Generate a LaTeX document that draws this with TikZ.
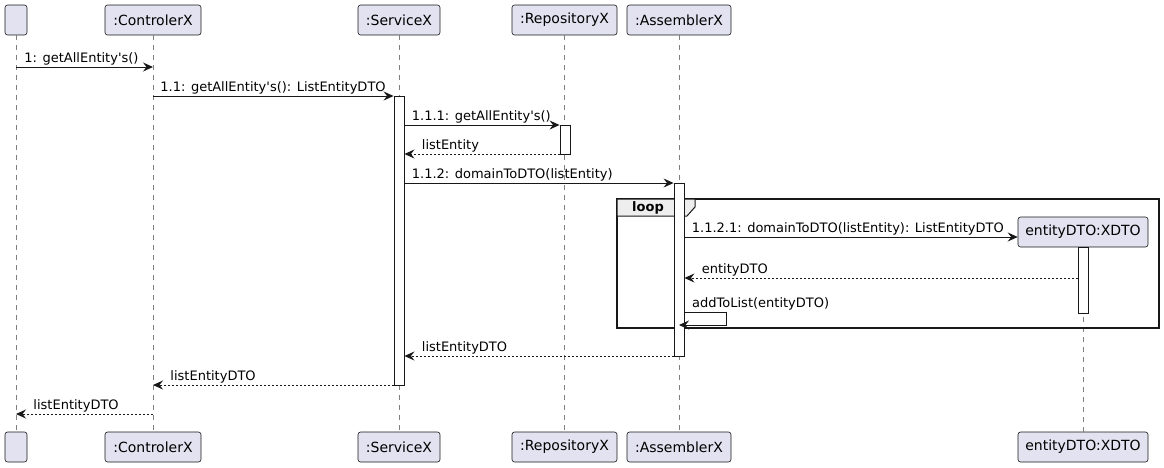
\documentclass[tikz,border=0pt]{standalone}
\usepackage{fontspec}
\setmainfont{DejaVu Sans}
\usetikzlibrary{arrows.meta}

\definecolor{partfill}{RGB}{226,226,240}
\definecolor{lineclr}{RGB}{24,24,24}
\definecolor{loopfill}{RGB}{238,238,238}

\begin{document}
\begin{tikzpicture}[x=1pt,y=-1pt,
  part/.style={draw=lineclr,fill=partfill,rounded corners=2.5pt,minimum height=30pt,inner sep=0pt,font=\fontsize{14}{16}\selectfont,line width=0.6pt},
  life/.style={lineclr!55,dash pattern=on 5pt off 5pt,line width=0.7pt},
  act/.style={draw=lineclr,fill=white,line width=0.9pt,minimum width=10pt,inner sep=0pt},
  msg/.style={lineclr,line width=0.9pt,-{Stealth[length=10pt,width=9pt,inset=3.5pt]}},
  ret/.style={msg,dash pattern=on 2pt off 2pt},
  lbl/.style={black,font=\fontsize{13}{15}\selectfont,inner sep=0pt,anchor=base west,yshift=5pt}]

\useasboundingbox (0,0) rectangle (1164,467);

\def\yTop{20}
\def\yBot{447}
\def\q{\textquotesingle}

% participants, top and bottom
\node[part,minimum width=22pt] (U) at (16,\yTop) {};
\node[part,minimum width=96pt] (C) at (153,\yTop) {:ControlerX};
\node[part,minimum width=82pt] (S) at (399,\yTop) {:ServiceX};
\node[part,minimum width=105pt] (R) at (564.5,\yTop) {:RepositoryX};
\node[part,minimum width=104pt] (A) at (679,\yTop) {:AssemblerX};
\node[part,minimum width=130pt] (X) at (1083,232) {entityDTO:XDTO};

\node[part,minimum width=22pt] (Ub) at (16,\yBot) {};
\node[part,minimum width=96pt] (Cb) at (153,\yBot) {:ControlerX};
\node[part,minimum width=82pt] (Sb) at (399,\yBot) {:ServiceX};
\node[part,minimum width=105pt] (Rb) at (564.5,\yBot) {:RepositoryX};
\node[part,minimum width=104pt] (Ab) at (679,\yBot) {:AssemblerX};
\node[part,minimum width=130pt] (Xb) at (1083,\yBot) {entityDTO:XDTO};

% lifelines
\draw[life] (U.south) -- (Ub.north);
\draw[life] (C.south) -- (Cb.north);
\draw[life] (S.south) -- (Sb.north);
\draw[life] (R.south) -- (Rb.north);
\draw[life] (A.south) -- (Ab.north);
\draw[life] (X.south) -- (Xb.north);

% loop frame
\draw[lineclr,line width=1.4pt] (617,199) rectangle (1159,328);
\draw[lineclr,fill=loopfill,line width=1pt]
	(617,199) -- (695,199) -- (695,207) -- (687,216) -- (617,216) -- cycle;
\node[font=\fontsize{13}{15}\selectfont\bfseries] (loop) at (648,208) {loop};

% activations
\node[act,minimum height=289pt] (actS) at (399,240.5) {};
\node[act,minimum height=29pt] (actR) at (565,139.5) {};
\node[act,minimum height=173pt] (actA) at (679,269.5) {};
\node[act,minimum height=66pt] (actX) at (1083,280) {};

% messages
\draw[msg] (U |- 0,67) -- (C |- 0,67)
	node[lbl,at start,xshift=8pt] (m1) {1: getAllEntity\q s()};
\draw[msg] (C |- 0,96) -- (actS.west |- 0,96)
	node[lbl,at start,xshift=7pt] (m2) {1.1: getAllEntity\q s(): ListEntityDTO};
\draw[msg] (actS.east |- 0,125) -- (actR.west |- 0,125)
	node[lbl,at start,xshift=7pt] (m3) {1.1.1: getAllEntity\q s()};
\draw[ret] (actR.west |- 0,154) -- (actS.east |- 0,154)
	node[lbl,at end,xshift=17pt] (m4) {listEntity};
\draw[msg] (actS.east |- 0,183) -- (actA.west |- 0,183)
	node[lbl,at start,xshift=7pt] (m5) {1.1.2: domainToDTO(listEntity)};
\draw[msg] (actA.east |- 0,237) -- (X.west |- 0,237)
	node[lbl,at start,xshift=7pt] (m6) {1.1.2.1: domainToDTO(listEntity): ListEntityDTO};
\draw[ret] (actX.west |- 0,278) -- (actA.east |- 0,278)
	node[lbl,at end,xshift=17pt] (m7) {entityDTO};
\draw[msg] (actA.east |- 0,312) -- (726,312) -- (726,325) -- (actA |- 0,325);
\node[lbl] (m8) at (692,312) {addToList(entityDTO)};
\draw[ret] (actA.west |- 0,356) -- (actS.east |- 0,356)
	node[lbl,at end,xshift=17pt] (m9) {listEntityDTO};
\draw[ret] (actS.west |- 0,385) -- (C |- 0,385)
	node[lbl,at end,xshift=17pt] (m10) {listEntityDTO};
\draw[ret] (C |- 0,414) -- (U |- 0,414)
	node[lbl,at end,xshift=17pt] (m11) {listEntityDTO};

\end{tikzpicture}
\end{document}
